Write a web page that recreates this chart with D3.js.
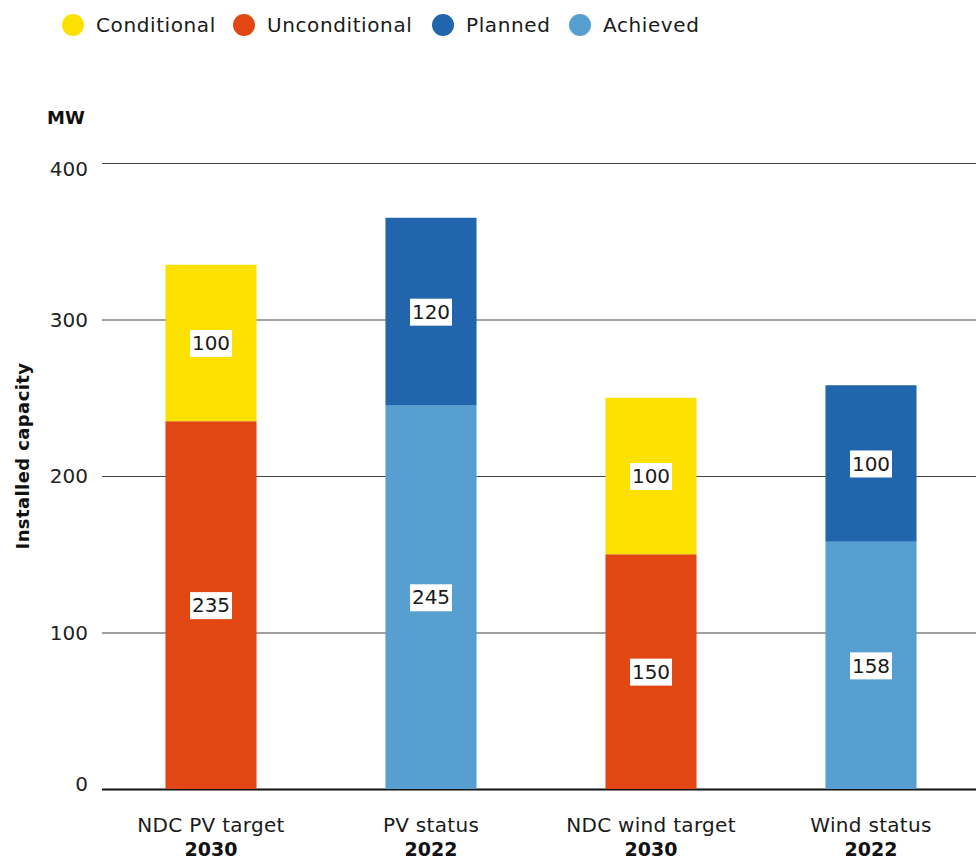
<!DOCTYPE html>
<html>
<head>
<meta charset="utf-8">
<script src="https://cdn.jsdelivr.net/npm/d3@7"></script>
<style>
  body { margin: 0; background: #fff; }
  svg { font-family: "DejaVu Sans", sans-serif; }
</style>
</head>
<body>
<div id="grafico"></div>
<script>
// dados do grafico
const categorias = ["NDC PV target", "PV status", "NDC wind target", "Wind status"];
const anos = ["2030", "2022", "2030", "2022"];
const series = ["Conditional", "Unconditional", "Planned", "Achieved"];
const cores = ["#fce100", "#e24713", "#2166ad", "#579fd0"];
// valores por serie (base primeiro, depois o topo)
const unconditional = [235, 0, 150, 0];
const conditional = [100, 0, 100, 0];
const achieved = [0, 245, 0, 158];
const planned = [0, 120, 0, 100];
const yTicks = [0, 100, 200, 300, 400];

const width = 976, height = 860;
const svg = d3.select("#grafico").append("svg")
    .attr("width", width)
    .attr("height", height);

const xScale = d3.scaleBand()
    .domain(categorias)
    .range([101, 981])
    .paddingInner(0.586)
    .paddingOuter(0.293);

const yScale = d3.scaleLinear()
    .domain([0, 400])
    .range([789, 163]);

// linhas de grade
svg.append("g")
    .selectAll("line")
    .data(yTicks)
    .enter().append("line")
    .attr("x1", 102)
    .attr("x2", width)
    .attr("y1", d => yScale(d) + 0.5)
    .attr("y2", d => yScale(d) + 0.5)
    .attr("stroke", d => d === 0 ? "#111" : "#444")
    .attr("stroke-width", d => d === 0 ? 2 : 1);

// rotulos do eixo y
svg.append("g")
    .selectAll("text")
    .data(yTicks)
    .enter().append("text")
    .attr("x", 88)
    .attr("y", d => yScale(d) + (d === 400 ? 6 : d === 0 ? -5 : 0))
    .attr("dy", "0.35em")
    .attr("text-anchor", "end")
    .attr("font-size", 20)
    .attr("fill", "#222")
    .text(d => d);

svg.append("text")
    .attr("x", 47)
    .attr("y", 124)
    .attr("font-size", 18)
    .attr("font-weight", "bold")
    .attr("fill", "#111")
    .text("MW");

svg.append("text")
    .attr("transform", "translate(29,456) rotate(-90)")
    .attr("text-anchor", "middle")
    .attr("font-size", 18)
    .attr("font-weight", "bold")
    .attr("letter-spacing", 0.4)
    .attr("fill", "#111")
    .text("Installed capacity");

// segmentos empilhados
const segmentos = [];
categorias.forEach((c, i) => {
    const pilha = unconditional[i] > 0
        ? [{ s: 1, v: unconditional[i] }, { s: 0, v: conditional[i] }]
        : [{ s: 3, v: achieved[i] }, { s: 2, v: planned[i] }];
    let base = 0;
    pilha.forEach(p => {
        segmentos.push({ cat: c, serie: p.s, y0: base, y1: base + p.v, v: p.v });
        base += p.v;
    });
});

svg.append("g")
    .selectAll("rect")
    .data(segmentos)
    .enter().append("rect")
    .attr("x", d => xScale(d.cat))
    .attr("y", d => yScale(d.y1))
    .attr("width", xScale.bandwidth())
    .attr("height", d => yScale(d.y0) - yScale(d.y1))
    .attr("fill", d => cores[d.serie]);

// caixas de valores
const rotulos = svg.append("g")
    .selectAll("g")
    .data(segmentos)
    .enter().append("g")
    .attr("transform", d => `translate(${xScale(d.cat) + xScale.bandwidth() / 2},${yScale((d.y0 + d.y1) / 2)})`);

rotulos.append("rect")
    .attr("x", -21)
    .attr("y", -13)
    .attr("width", 42)
    .attr("height", 27)
    .attr("fill", "#fff");

rotulos.append("text")
    .attr("text-anchor", "middle")
    .attr("dy", "0.36em")
    .attr("font-size", 20)
    .attr("fill", "#1a1a1a")
    .text(d => d.v);

// rotulos do eixo x
const eixoX = svg.append("g")
    .selectAll("g")
    .data(categorias)
    .enter().append("g")
    .attr("transform", d => `translate(${xScale(d) + xScale.bandwidth() / 2},0)`);

eixoX.append("text")
    .attr("y", 832)
    .attr("text-anchor", "middle")
    .attr("font-size", 20)
    .attr("letter-spacing", 0.3)
    .attr("fill", "#1a1a1a")
    .text(d => d);

eixoX.append("text")
    .attr("y", 856)
    .attr("text-anchor", "middle")
    .attr("font-size", 19)
    .attr("font-weight", "bold")
    .attr("fill", "#111")
    .text((d, i) => anos[i]);

// legenda
const legX = [73, 244, 443, 580];
const legenda = svg.append("g")
    .selectAll("g")
    .data(series)
    .enter().append("g")
    .attr("transform", (d, i) => `translate(${legX[i]},25)`);

legenda.append("circle")
    .attr("r", 11)
    .attr("fill", (d, i) => cores[i]);

legenda.append("text")
    .attr("x", 23)
    .attr("dy", "0.35em")
    .attr("font-size", 20)
    .attr("letter-spacing", 0.6)
    .attr("fill", "#1a1a1a")
    .text(d => d);
</script>
</body>
</html>
